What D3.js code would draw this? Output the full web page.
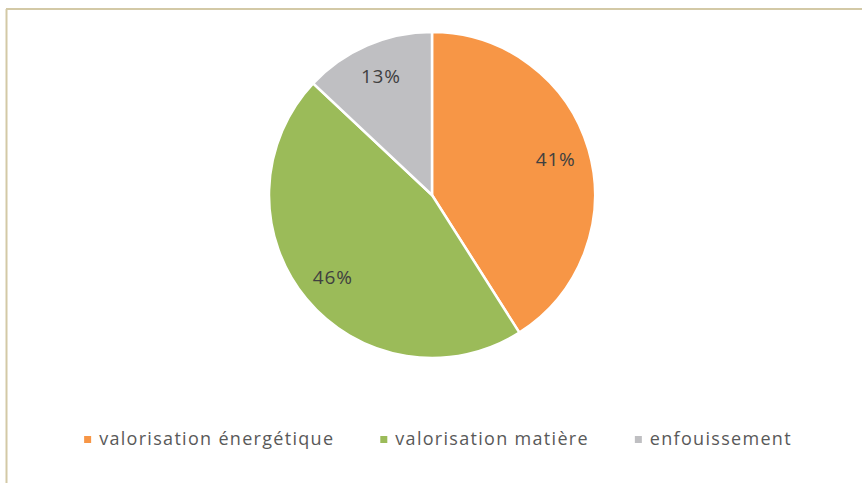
<!DOCTYPE html>
<html>
<head>
<meta charset="utf-8">
<script src="https://cdn.jsdelivr.net/npm/d3@7"></script>
<style>
  body { margin: 0; background: #fff; }
  svg { display: block; font-family: "Open Sans", sans-serif; }
</style>
</head>
<body>
<div id="chart"></div>
<script>
// share of each treatment, in %
var categories = ["valorisation énergétique", "valorisation matière", "enfouissement"];
var values = [41, 46, 13];
var colors = ["#F79646", "#9BBB59", "#BFBFC2"];

var svgWidth = 862;
var svgHeight = 483;
var cx = 432, cy = 195, radius = 163;

var svg = d3.select("#chart")
  .append("svg")
  .attr("width", svgWidth)
  .attr("height", svgHeight);

// frame (top + left only visible)
svg.append("line")
  .attr("x1", 6).attr("y1", 9).attr("x2", svgWidth).attr("y2", 9)
  .attr("stroke", "#d3c9a6").attr("stroke-width", 2);
svg.append("line")
  .attr("x1", 6.5).attr("y1", 9).attr("x2", 6.5).attr("y2", svgHeight)
  .attr("stroke", "#d3c9a6").attr("stroke-width", 2);

var data = categories.map(function (c, i) {
  return { name: c, value: values[i], color: colors[i] };
});

var pie = d3.pie()
  .value(d => d.value)
  .sort(null);

var arc = d3.arc()
  .innerRadius(0)
  .outerRadius(radius);

var labelArc = d3.arc()
  .innerRadius(radius * 0.79)
  .outerRadius(radius * 0.79);

var grpPie = svg.append("g")
  .attr("transform", `translate(${cx}, ${cy})`);

var arcs = pie(data);

grpPie.selectAll("path")
  .data(arcs)
  .enter()
  .append("path")
  .attr("d", arc)
  .attr("fill", d => d.data.color)
  .attr("stroke", "#fff")
  .attr("stroke-width", 2.5);

grpPie.selectAll("text")
  .data(arcs)
  .enter()
  .append("text")
  .attr("transform", d => `translate(${labelArc.centroid(d)})`)
  .attr("text-anchor", "middle")
  .attr("dy", "0.35em")
  .attr("font-size", 19)
  .attr("letter-spacing", 0.8)
  .attr("fill", "#404040")
  .text(d => d.data.value + "%");

// legend
var legend = svg.append("g");
var items = legend.selectAll("g")
  .data(data)
  .enter()
  .append("g");

items.append("rect")
  .attr("width", 7)
  .attr("height", 7)
  .attr("y", -9)
  .attr("fill", d => d.color);

items.append("text")
  .attr("x", 15)
  .attr("font-size", 18)
  .attr("letter-spacing", 1.3)
  .attr("fill", "#595959")
  .text(d => d.name);

var gap = 46;
var widths = [];
items.each(function () { widths.push(this.getBBox().width); });
var total = d3.sum(widths) + gap * (widths.length - 1);
var x0 = 438 - total / 2;
items.attr("transform", function (d, i) {
  var x = x0 + d3.sum(widths.slice(0, i)) + gap * i;
  return `translate(${x}, 445)`;
});
</script>
</body>
</html>
